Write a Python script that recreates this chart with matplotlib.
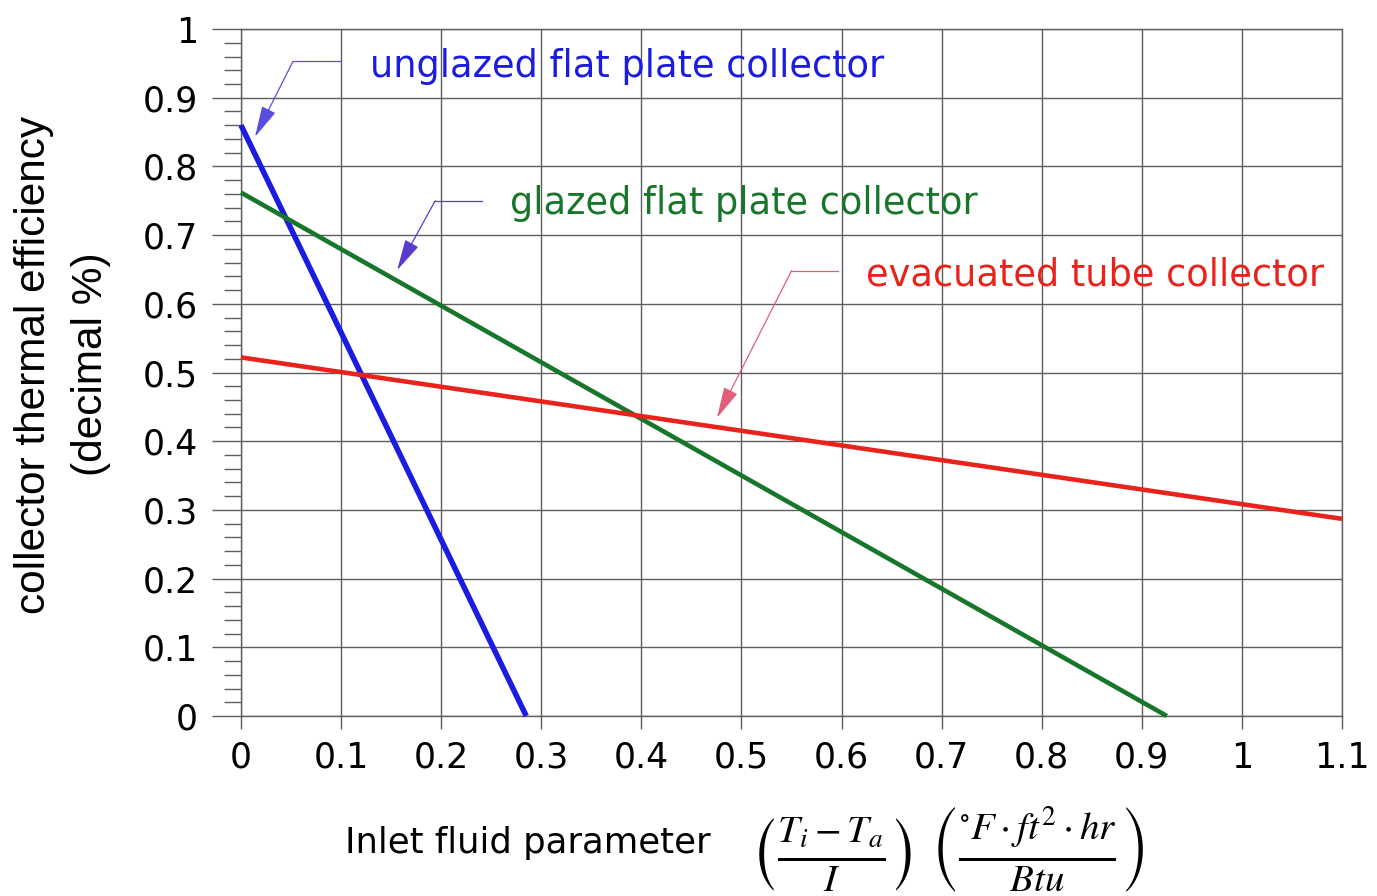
import numpy as np
import matplotlib
matplotlib.use('Agg')
import matplotlib.pyplot as plt

plt.rcParams['mathtext.fontset'] = 'stix'

# Datos (eficiencia lineal: extremos)
colectores = ['unglazed flat plate collector',
              'glazed flat plate collector',
              'evacuated tube collector']
x_ini = [0.0, 0.0, 0.0]
y_ini = [0.86, 0.762, 0.522]
x_fin = [0.285, 0.925, 1.1]
y_fin = [0.0, 0.0, 0.287]

colores = ['#1c1ce0', '#18762a', '#e8231c']
grosor = [4.0, 3.3, 3.3]

# Flechas de anotación: inicio, codo, punta
flecha_ini = [(0.099, 0.953), (0.241, 0.750), (0.596, 0.648)]
flecha_codo = [(0.052, 0.953), (0.194, 0.750), (0.550, 0.648)]
flecha_punta = [(0.014, 0.843), (0.156, 0.649), (0.4755, 0.434)]
color_flecha = ['#5a4ee0', '#5a3ccc', '#e0607a']
texto_pos = [(0.129, 0.945), (0.269, 0.746), (0.624, 0.642)]

x_ticks = [0, 0.1, 0.2, 0.3, 0.4, 0.5, 0.6, 0.7, 0.8, 0.9, 1, 1.1]
x_labels = ['0', '0.1', '0.2', '0.3', '0.4', '0.5', '0.6', '0.7', '0.8', '0.9', '1', '1.1']
y_ticks = [0, 0.1, 0.2, 0.3, 0.4, 0.5, 0.6, 0.7, 0.8, 0.9, 1]
y_labels = ['0', '0.1', '0.2', '0.3', '0.4', '0.5', '0.6', '0.7', '0.8', '0.9', '1']

fig = plt.figure(figsize=(13.77, 8.96), dpi=100)
ax = fig.add_axes([0.175, 0.2009, 0.7996, 0.7667])

ax.set_xlim(0, 1.1)
ax.set_ylim(0, 1)
ax.set_xticks(x_ticks)
ax.set_xticklabels(x_labels)
ax.set_yticks(y_ticks)
ax.set_yticklabels(y_labels)
ax.set_yticks(np.arange(0, 1.001, 0.02), minor=True)

ax.grid(True, which='major', color='#5e5e5e', lw=1.0)
for s in ax.spines.values():
    s.set_color('#5e5e5e')
    s.set_linewidth(1.0)

ax.tick_params(axis='y', which='major', length=21, width=1.0, color='#5e5e5e',
               labelsize=25, pad=10)
ax.tick_params(axis='y', which='minor', length=12, width=1.0, color='#5e5e5e')
ax.tick_params(axis='x', which='major', length=9, width=1.0, color='#5e5e5e',
               labelsize=25, pad=9)

# Rectas
for i in range(3):
    ax.plot([x_ini[i], x_fin[i]], [y_ini[i], y_fin[i]],
            color=colores[i], lw=grosor[i], solid_capstyle='butt',
            clip_on=False, zorder=3)

# Anotaciones
for i in range(3):
    ax.plot([flecha_ini[i][0], flecha_codo[i][0]],
            [flecha_ini[i][1], flecha_codo[i][1]],
            color=color_flecha[i], lw=0.9, zorder=4)
    ax.annotate('', xy=flecha_punta[i], xytext=flecha_codo[i],
                arrowprops=dict(arrowstyle='-|>,head_length=0.75,head_width=0.18',
                                color=color_flecha[i], lw=0.9,
                                mutation_scale=26, shrinkA=0, shrinkB=0),
                zorder=4)
    ax.text(texto_pos[i][0], texto_pos[i][1], colectores[i],
            color=colores[i], fontsize=26.5, ha='left', va='center', zorder=5)

# Etiquetas de los ejes
fig.text(0.025, 0.593, 'collector thermal efficiency', rotation=90,
         fontsize=30.5, family='Liberation Sans', ha='center', va='center')
fig.text(0.066, 0.593, '(decimal %)', rotation=90,
         fontsize=30.5, family='Liberation Sans', ha='center', va='center')

fig.text(0.383, 0.059, 'Inlet fluid parameter', fontsize=25.5,
         ha='center', va='center')
fig.text(0.688, 0.052,
         r'$\left(\frac{T_i - T_a}{I}\right)\ \left(\frac{{}^{\circ}F\cdot ft^2\cdot hr}{Btu}\right)$',
         fontsize=40, ha='center', va='center')

fig.savefig('out.png', dpi=100)
